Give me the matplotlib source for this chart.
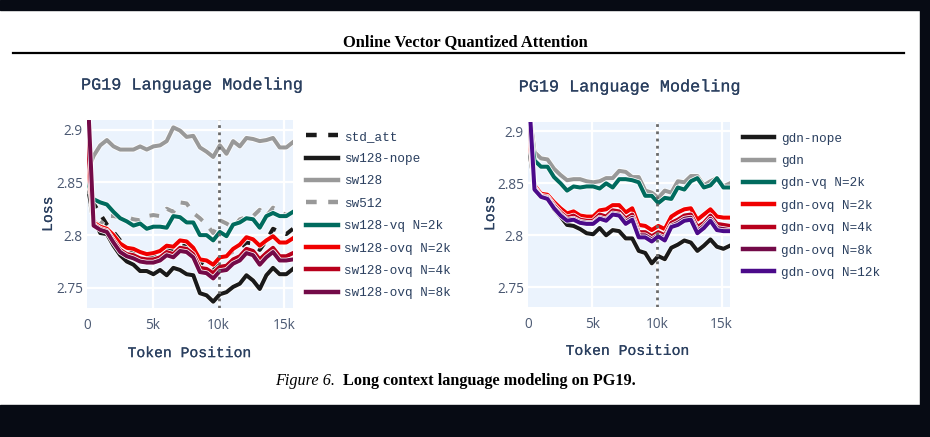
import numpy as np
import matplotlib
matplotlib.use("Agg")
import matplotlib.pyplot as plt
import matplotlib.patheffects as pe
from matplotlib.patches import Rectangle

# token positions (bins), same for both panels
tokens = np.linspace(0, 15650, 32)

# ---- left panel: sliding window models ----
std_att = [2.852, 2.830, 2.820, 2.810, 2.803, 2.795, 2.788, 2.785, 2.783, 2.781, 2.781, 2.785,
           2.787, 2.785, 2.791, 2.789, 2.786, 2.775, 2.771, 2.766, 2.776, 2.780, 2.785, 2.788,
           2.793, 2.792, 2.786, 2.795, 2.806, 2.803, 2.801, 2.806]
sw128_nope = [2.850, 2.815, 2.802, 2.801, 2.790, 2.781, 2.775, 2.772, 2.766, 2.766, 2.763, 2.767,
              2.762, 2.769, 2.767, 2.763, 2.762, 2.745, 2.743, 2.737, 2.744, 2.746, 2.751, 2.754,
              2.762, 2.757, 2.749, 2.762, 2.769, 2.763, 2.763, 2.768]
sw128 = [2.859, 2.875, 2.885, 2.890, 2.884, 2.881, 2.881, 2.881, 2.884, 2.881, 2.884, 2.885,
         2.889, 2.902, 2.899, 2.893, 2.894, 2.883, 2.879, 2.874, 2.885, 2.877, 2.889, 2.884,
         2.892, 2.891, 2.889, 2.890, 2.892, 2.883, 2.883, 2.888]
sw512 = [2.848, 2.812, 2.810, 2.818, 2.818, 2.817, 2.817, 2.815, 2.814, 2.818, 2.819, 2.818,
         2.825, 2.822, 2.831, 2.830, 2.821, 2.816, 2.810, 2.802, 2.814, 2.811, 2.807, 2.815,
         2.817, 2.818, 2.824, 2.818, 2.826, 2.822, 2.819, 2.822]
sw128_vq = [2.852, 2.834, 2.831, 2.829, 2.822, 2.816, 2.813, 2.809, 2.811, 2.806, 2.808, 2.808,
            2.807, 2.818, 2.817, 2.812, 2.812, 2.800, 2.800, 2.795, 2.803, 2.799, 2.810, 2.812,
            2.816, 2.815, 2.807, 2.818, 2.821, 2.818, 2.818, 2.822]
sw128_ovq2k = [2.880, 2.812, 2.808, 2.806, 2.800, 2.792, 2.788, 2.787, 2.784, 2.782, 2.783, 2.785,
               2.790, 2.789, 2.795, 2.794, 2.788, 2.777, 2.776, 2.772, 2.779, 2.780, 2.787, 2.791,
               2.798, 2.796, 2.790, 2.795, 2.799, 2.793, 2.793, 2.797]
sw128_ovq4k = [2.900, 2.810, 2.806, 2.804, 2.795, 2.786, 2.782, 2.781, 2.778, 2.777, 2.777, 2.779,
               2.784, 2.782, 2.788, 2.787, 2.782, 2.769, 2.768, 2.764, 2.770, 2.771, 2.777, 2.780,
               2.787, 2.785, 2.777, 2.783, 2.788, 2.780, 2.780, 2.783]
sw128_ovq8k = [2.950, 2.809, 2.805, 2.803, 2.793, 2.784, 2.780, 2.778, 2.775, 2.774, 2.774, 2.776,
               2.781, 2.779, 2.785, 2.784, 2.779, 2.765, 2.764, 2.759, 2.766, 2.767, 2.773, 2.776,
               2.783, 2.781, 2.772, 2.779, 2.784, 2.776, 2.776, 2.777]

# ---- right panel: gated delta net models ----
gdn_nope = [2.890, 2.848, 2.839, 2.836, 2.825, 2.818, 2.810, 2.809, 2.806, 2.802, 2.801, 2.807,
            2.800, 2.805, 2.804, 2.797, 2.797, 2.785, 2.783, 2.773, 2.780, 2.777, 2.788, 2.791,
            2.795, 2.793, 2.785, 2.790, 2.796, 2.789, 2.787, 2.790]
gdn = [2.930, 2.880, 2.874, 2.873, 2.864, 2.858, 2.853, 2.854, 2.854, 2.852, 2.851, 2.852,
       2.855, 2.855, 2.862, 2.861, 2.856, 2.856, 2.843, 2.841, 2.836, 2.843, 2.841, 2.852,
       2.851, 2.857, 2.857, 2.848, 2.852, 2.855, 2.847, 2.850]
gdn_vq = [2.920, 2.872, 2.866, 2.866, 2.856, 2.850, 2.843, 2.847, 2.846, 2.847, 2.847, 2.845,
          2.850, 2.846, 2.854, 2.854, 2.853, 2.851, 2.838, 2.838, 2.831, 2.836, 2.835, 2.846,
          2.844, 2.852, 2.855, 2.846, 2.848, 2.855, 2.846, 2.846]
gdn_ovq2k = [2.905, 2.848, 2.840, 2.839, 2.832, 2.826, 2.821, 2.823, 2.819, 2.818, 2.818, 2.824,
             2.825, 2.829, 2.829, 2.822, 2.826, 2.810, 2.809, 2.805, 2.809, 2.806, 2.818, 2.822,
             2.825, 2.826, 2.815, 2.820, 2.825, 2.818, 2.817, 2.817]
gdn_ovq4k = [2.920, 2.846, 2.838, 2.837, 2.829, 2.822, 2.817, 2.819, 2.815, 2.814, 2.814, 2.820,
             2.818, 2.824, 2.823, 2.816, 2.820, 2.803, 2.803, 2.799, 2.803, 2.800, 2.812, 2.815,
             2.819, 2.820, 2.808, 2.812, 2.819, 2.811, 2.810, 2.809]
gdn_ovq8k = [2.930, 2.845, 2.837, 2.836, 2.827, 2.820, 2.815, 2.816, 2.813, 2.812, 2.812, 2.817,
             2.815, 2.821, 2.820, 2.813, 2.817, 2.800, 2.800, 2.796, 2.800, 2.797, 2.809, 2.812,
             2.816, 2.817, 2.804, 2.809, 2.816, 2.807, 2.806, 2.805]
gdn_ovq12k = [2.950, 2.844, 2.837, 2.835, 2.826, 2.819, 2.814, 2.815, 2.812, 2.811, 2.811, 2.816,
              2.814, 2.820, 2.819, 2.811, 2.815, 2.798, 2.798, 2.794, 2.799, 2.795, 2.808, 2.810,
              2.814, 2.815, 2.802, 2.807, 2.814, 2.805, 2.804, 2.804]

left_series = [
    ("std_att", std_att, "#1a1a1a", "dash"),
    ("sw128-nope", sw128_nope, "#1a1a1a", "solid"),
    ("sw128", sw128, "#999999", "solid"),
    ("sw512", sw512, "#999999", "dash"),
    ("sw128-vq N=2k", sw128_vq, "#006b5e", "solid"),
    ("sw128-ovq N=2k", sw128_ovq2k, "#f00000", "solid"),
    ("sw128-ovq N=4k", sw128_ovq4k, "#b8001c", "solid"),
    ("sw128-ovq N=8k", sw128_ovq8k, "#730a48", "solid"),
]
right_series = [
    ("gdn-nope", gdn_nope, "#1a1a1a", "solid"),
    ("gdn", gdn, "#999999", "solid"),
    ("gdn-vq N=2k", gdn_vq, "#006b5e", "solid"),
    ("gdn-ovq N=2k", gdn_ovq2k, "#f00000", "solid"),
    ("gdn-ovq N=4k", gdn_ovq4k, "#b8001c", "solid"),
    ("gdn-ovq N=8k", gdn_ovq8k, "#730a48", "solid"),
    ("gdn-ovq N=12k", gdn_ovq12k, "#4b0a8a", "solid"),
]

xticks = [0, 5000, 10000, 15000]
xtick_labels = ["0", "5k", "10k", "15k"]
yticks = [2.75, 2.8, 2.85, 2.9]
ytick_labels = ["2.75", "2.8", "2.85", "2.9"]

MONO = "Liberation Mono"
SERIF = "Liberation Serif"
NAVY = "#2a3f5f"
TICK = "#4a5872"
BG = "#ebf3fd"
# thicken the thin Courier-like glyphs a little
bold_mono = [pe.withStroke(linewidth=0.12, foreground=NAVY)]


def draw_panel(ax, series):
    ax.set_facecolor(BG)
    for s in ax.spines.values():
        s.set_visible(False)
    for xt in xticks[1:]:
        ax.axvline(xt, color="white", lw=1.6, zorder=0)
    for yt in yticks:
        ax.axhline(yt, color="white", lw=1.6, zorder=0)
    for name, vals, col, style in series:
        kw = dict(color=col, lw=2.9, label=name, solid_joinstyle="round",
                  path_effects=[pe.Stroke(linewidth=4.0, foreground="white"), pe.Normal()])
        if style == "dash":
            kw["dashes"] = (2.4, 2.6)
        ax.plot(tokens, vals, **kw)
    ax.axvline(10000, color="#6a6a6a", lw=2.0, ls=(0, (1, 1.6)), zorder=5)
    ax.set_xlim(0, 15650)
    ax.set_ylim(2.731, 2.909)
    ax.set_xticks(xticks, xtick_labels)
    ax.set_yticks(yticks, ytick_labels)
    ax.tick_params(length=0, labelsize=9.8, labelcolor=TICK)
    ax.tick_params(axis="x", pad=7)
    ax.tick_params(axis="y", pad=3)
    for lab in ax.get_xticklabels() + ax.get_yticklabels():
        lab.set_family("Open Sans")
    leg = ax.legend(loc="upper left", bbox_to_anchor=(1.02, 0.99), frameon=False,
                    prop={"family": MONO, "size": 9.1}, handlelength=2.5,
                    handletextpad=0.55, labelspacing=0.82, borderaxespad=0.3)
    for t in leg.get_texts():
        t.set_color(NAVY)
    for h in leg.get_lines():
        h.set_path_effects([])
        h.set_linewidth(3.2)


fig = plt.figure(figsize=(9.3, 4.37), dpi=100)
fig.patch.set_facecolor("white")

ax1 = fig.add_axes([0.0935, 0.2952, 0.2215, 0.4302])
ax2 = fig.add_axes([0.5677, 0.2975, 0.2172, 0.4233])
draw_panel(ax1, left_series)
draw_panel(ax2, right_series)

# panel titles and axis labels
for x, y in [(0.2054, 0.8055), (0.676, 0.801)]:
    fig.text(x, y, "PG19 Language Modeling", family=MONO, size=12.1,
             color=NAVY, ha="center", va="center", path_effects=bold_mono)
for x, y in [(0.0516, 0.51), (0.527, 0.512)]:
    fig.text(x, y, "Loss", family=MONO, size=10.6, color=NAVY, rotation=90,
             ha="center", va="center", path_effects=bold_mono)
for x, y in [(0.204, 0.192), (0.675, 0.197)]:
    fig.text(x, y, "Token Position", family=MONO, size=10.6, color=NAVY,
             ha="center", va="center", path_effects=bold_mono)

# paper header, rule and caption
fig.text(0.5, 0.904, "Online Vector Quantized Attention", family=SERIF,
         weight="bold", size=11.9, ha="center", va="center", color="black")
fig.add_artist(plt.Line2D([0.014, 0.972], [0.879, 0.879], color="black", lw=1.6))
fig.text(0.360, 0.128, "Figure 6.", family=SERIF, style="italic", size=11.7,
         ha="right", va="center", color="black")
fig.text(0.369, 0.128, "Long context language modeling on PG19.", family=SERIF,
         weight="bold", size=11.7, ha="left", va="center", color="black")

# dark screenshot borders
dark = "#070b14"
fig.add_artist(Rectangle((0, 1 - 10 / 437), 1, 10 / 437, transform=fig.transFigure,
                         color=dark, zorder=10))
fig.add_artist(Rectangle((0, 0), 1, 32 / 437, transform=fig.transFigure,
                         color=dark, zorder=10))
fig.add_artist(Rectangle((920 / 930, 0), 10 / 930, 1, transform=fig.transFigure,
                         color=dark, zorder=10))

fig.savefig("out.png", dpi=100, facecolor=fig.get_facecolor())
